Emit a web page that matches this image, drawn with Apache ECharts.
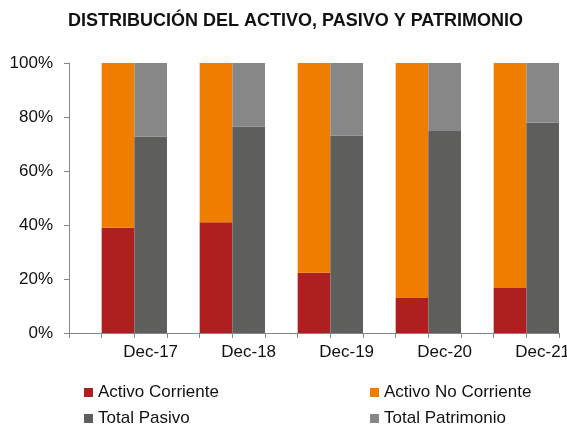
<!DOCTYPE html>
<html>
<head>
<meta charset="utf-8">
<script src="https://cdn.jsdelivr.net/npm/echarts@6/dist/echarts.min.js"></script>
<style>
  html, body { margin: 0; padding: 0; background: #fff; }
  #chart { width: 567px; height: 425px; }
</style>
</head>
<body>
<div id="chart"></div>
<script>
const periods = ['Dec-17', 'Dec-18', 'Dec-19', 'Dec-20', 'Dec-21'];
const activoCorriente = [39.0, 41.0, 22.3, 13.0, 16.7];
const activoNoCorriente = [61.0, 59.0, 77.7, 87.0, 83.3];
const totalPasivo = [72.8, 76.5, 73.1, 74.8, 77.9];
const totalPatrimonio = [27.2, 23.5, 26.9, 25.2, 22.1];
const yTicks = [0, 20, 40, 60, 80, 100];

// each period takes three slots: gap, activo bar, pasivo bar
const slots = [];
periods.forEach((p, i) => { slots.push('g' + i, 'a' + i, 'p' + i); });

function place(values, offset) {
  const out = slots.map(() => '-');
  values.forEach((v, i) => { out[i * 3 + offset] = v; });
  return out;
}

const font = '"Liberation Sans", Arial, sans-serif';
const chart = echarts.init(document.getElementById('chart'));

const barBase = { type: 'bar', barWidth: '100%', barGap: '-100%' };
const legendBase = {
  orient: 'vertical', top: 384, height: 50, padding: 0,
  icon: 'rect', itemWidth: 9, itemHeight: 9, itemGap: 9,
  selectedMode: false,
  textStyle: { fontFamily: font, fontSize: 17, color: '#111' }
};

chart.setOption({
  animation: false,
  textStyle: { fontFamily: font },
  title: {
    text: 'DISTRIBUCIÓN DEL ACTIVO, PASIVO Y PATRIMONIO',
    left: 68,
    top: 12,
    padding: 0,
    textStyle: { fontFamily: font, fontSize: 18, fontWeight: 'bold', color: '#111' }
  },
  legend: [
    Object.assign({}, legendBase, { data: ['Activo Corriente', 'Total Pasivo'], left: 84 }),
    Object.assign({}, legendBase, { data: ['Activo No Corriente', 'Total Patrimonio'], left: 370 })
  ],
  grid: { left: 69, right: 8, top: 63, bottom: 92, outerBoundsMode: 'none' },
  xAxis: {
    type: 'category',
    data: slots,
    boundaryGap: true,
    axisLine: { lineStyle: { color: '#868686', width: 1 } },
    axisTick: { show: true, interval: 0, length: 5, lineStyle: { color: '#868686' } },
    axisLabel: {
      interval: 0,
      margin: 11,
      fontSize: 17,
      color: '#111',
      fontFamily: font,
      formatter: v => v[0] === 'p' ? periods[+v.slice(1)] : ''
    }
  },
  yAxis: {
    type: 'value',
    min: yTicks[0],
    max: yTicks[yTicks.length - 1],
    interval: 20,
    splitLine: { show: false },
    axisLine: { show: true, lineStyle: { color: '#868686', width: 1 } },
    axisTick: { show: true, length: 5, lineStyle: { color: '#868686' } },
    axisLabel: { margin: 16, fontSize: 17, color: '#111', fontFamily: font, formatter: '{value}%' }
  },
  series: [
    Object.assign({}, barBase, { name: 'Activo Corriente', stack: 'activo', data: place(activoCorriente, 1), itemStyle: { color: '#AE1F1F' } }),
    Object.assign({}, barBase, { name: 'Activo No Corriente', stack: 'activo', data: place(activoNoCorriente, 1), itemStyle: { color: '#EE7D00' } }),
    Object.assign({}, barBase, { name: 'Total Pasivo', stack: 'pasivo', data: place(totalPasivo, 2), itemStyle: { color: '#5E5E5C' } }),
    Object.assign({}, barBase, { name: 'Total Patrimonio', stack: 'pasivo', data: place(totalPatrimonio, 2), itemStyle: { color: '#878787' } })
  ]
});
</script>
</body>
</html>
